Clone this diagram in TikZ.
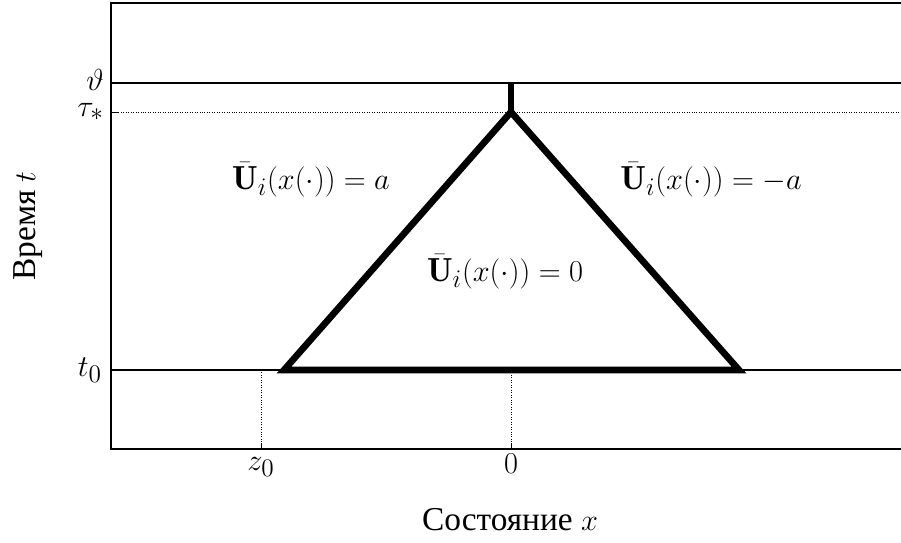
\documentclass[tikz,border=0pt]{standalone}
\usepackage{fontspec}
\newfontfamily\cyrfont{Liberation Serif}
\tikzset{
  lbl/.style={font=\fontsize{19}{21}\selectfont, inner sep=1pt},
  cyrlbl/.style={font=\fontsize{19}{21}\selectfont, inner sep=1pt},
  region/.style={line width=3.8pt, line join=miter},
  guide/.style={densely dotted, line width=0.4pt}
}
\begin{document}
\begin{tikzpicture}[x=0.02cm, y=-0.02cm]
\useasboundingbox (0,0) rectangle (901,542);
% frame
\draw[line width=0.6pt] (901,3) -- (111,3) -- (111,449) -- (901,449);
\draw[line width=0.6pt] (111,83) -- (901,83);
\draw[line width=0.6pt] (111,370) -- (901,370);
\draw[guide] (111,112) -- (901,112);
\draw[guide] (261,370) -- (261,449);
\draw[guide] (511,370) -- (511,449);
% ticks
\foreach \yy in {83,112,370} \draw (111,\yy) -- (118,\yy);
\foreach \xx in {261,511} \draw (\xx,449) -- (\xx,443);
% triangle
\draw[region] (284,370) -- (511,112) -- (739,370) -- cycle;
\draw[region] (511,112) -- (511,83);
% labels
\node[lbl, left] (theta) at (106,80) {$\vartheta$};
\node[lbl, left] (taus) at (106,112) {$\tau_*$};
\node[lbl, left] (tzero) at (104,370) {$t_0$};
\node[lbl] (zzero) at (261,467) {$z_0$};
\node[lbl] (xzero) at (511,464) {$0$};
\node[cyrlbl] (xlab) at (510,520) {\cyrfont Состояние \normalfont$x$};
\node[cyrlbl, rotate=90] (tlab) at (28,226) {\cyrfont Время \normalfont$t$};
\node[lbl] (uleft) at (311,180) {$\bar{\mathbf{U}}_i(x(\cdot))=a$};
\node[lbl] (uright) at (711,180) {$\bar{\mathbf{U}}_i(x(\cdot))=-a$};
\node[lbl] (umid) at (505,272) {$\bar{\mathbf{U}}_i(x(\cdot))=0$};
\end{tikzpicture}
\end{document}
